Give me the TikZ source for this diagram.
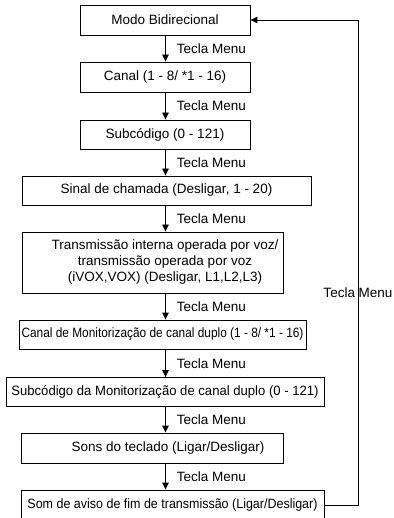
\documentclass[tikz,border=0pt]{standalone}
\usepackage{fontspec}
\setmainfont{Liberation Sans}
\usepackage{graphicx}
\usetikzlibrary{arrows.meta}
\begin{document}
\begin{tikzpicture}[x=1pt, y=-1pt, >={Triangle[length=7pt,width=6.5pt]}, line width=0.9pt,
  box/.style={draw, inner sep=2pt, font=\fontsize{13.5}{16}\selectfont},
  tecla/.style={right, xshift=9pt, inner sep=2pt, font=\fontsize{13.5}{16}\selectfont}]
\useasboundingbox (0,0) rectangle (393,518);
\coordinate (axis) at (165.5,0);
\coordinate (loopx) at (358,0);
\node[box, minimum width=170pt, minimum height=30pt] (modo) at (165,20) {Modo Bidirecional};
\node[box, minimum width=170pt, minimum height=30pt] (canal) at (165,77) {Canal (1 - 8/ *1 - 16)};
\node[box, minimum width=170pt, minimum height=29pt] (subcod) at (165,134.5) {Subcódigo (0 - 121)};
\node[box, minimum width=289pt, minimum height=29pt] (sinal) at (166.5,190.5) {Sinal de chamada (Desligar, 1 - 20)};
\node[box, minimum width=261pt, minimum height=61pt] (vox) at (152.5,262.5) {\hspace*{25pt}\begin{tabular}{@{}c@{}}Transmissão interna operada por voz/\\transmissão operada por voz\\(iVOX,VOX) (Desligar, L1,L2,L3)\end{tabular}};
\node[box, minimum width=287pt, minimum height=29pt] (moncanal) at (162.5,334.5) {\scalebox{0.88}[1]{Canal de Monitorização de canal duplo (1 - 8/ *1 - 16)}};
\node[box, minimum width=318pt, minimum height=29pt] (monsub) at (165,392) {\scalebox{0.97}[1]{Subcódigo da Monitorização de canal duplo (0 - 121)}};
\node[box, minimum width=262pt, minimum height=30pt] (sons) at (152,448) {\hspace*{32pt}Sons do teclado (Ligar/Desligar)};
\node[box, minimum width=303pt, minimum height=30pt] (aviso) at (172.5,505) {\scalebox{0.925}[1]{Som de aviso de fim de transmissão (Ligar/Desligar)}};
\draw[->] (modo.south -| axis) -- (canal.north -| axis) node[tecla, midway] {Tecla Menu};
\draw[->] (canal.south -| axis) -- (subcod.north -| axis) node[tecla, midway] {Tecla Menu};
\draw[->] (subcod.south -| axis) -- (sinal.north -| axis) node[tecla, midway] {Tecla Menu};
\draw[->] (sinal.south -| axis) -- (vox.north -| axis) node[tecla, midway] {Tecla Menu};
\draw[->] (vox.south -| axis) -- (moncanal.north -| axis) node[tecla, midway] {Tecla Menu};
\draw[->] (moncanal.south -| axis) -- (monsub.north -| axis) node[tecla, midway] {Tecla Menu};
\draw[->] (monsub.south -| axis) -- (sons.north -| axis) node[tecla, midway] {Tecla Menu};
\draw[->] (sons.south -| axis) -- (aviso.north -| axis) node[tecla, midway] {Tecla Menu};
\draw[->] (aviso.east) -- (aviso.east -| loopx) |- (modo.east);
\node[inner sep=2pt, font=\fontsize{13.5}{16}\selectfont] (loopmenu) at (358,292.5) {Tecla Menu};
\end{tikzpicture}
\end{document}
